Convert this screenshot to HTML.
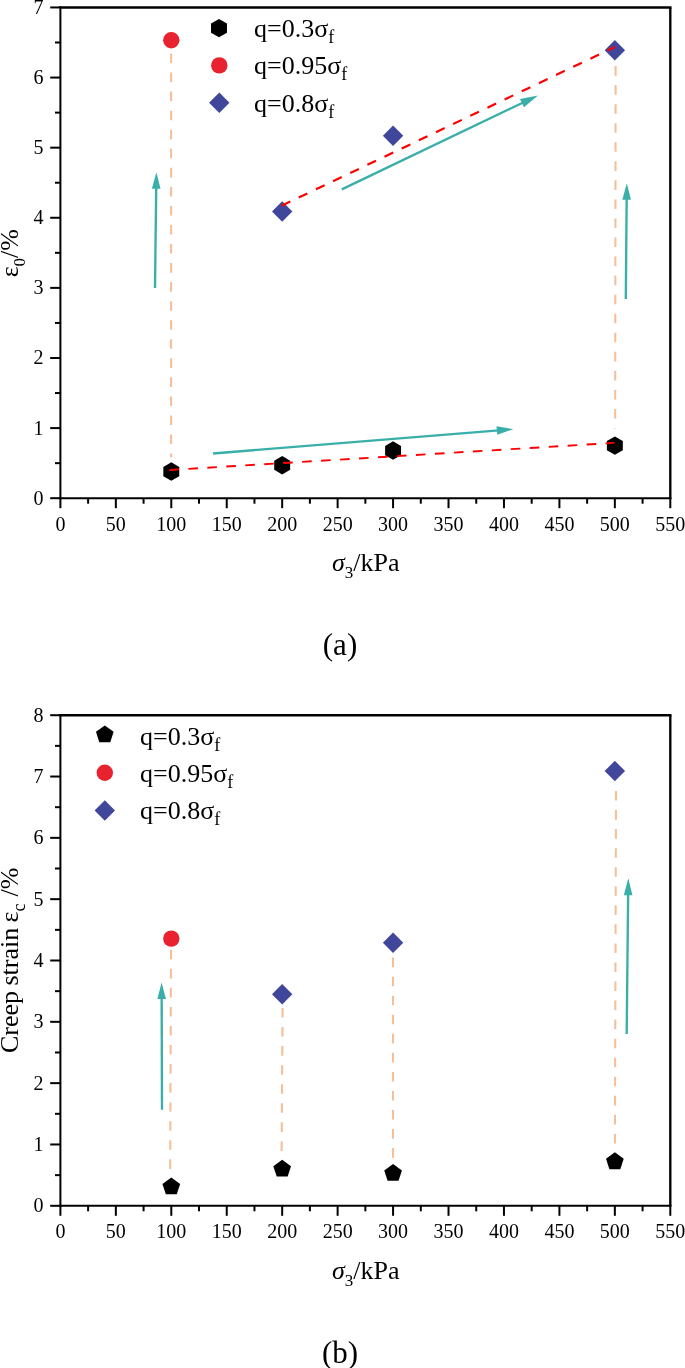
<!DOCTYPE html>
<html><head><meta charset="utf-8"><title>Figure</title>
<style>
html,body{margin:0;padding:0;background:#fff;}
body{width:685px;height:1368px;overflow:hidden;}
svg{display:block;}
text{font-family:"Liberation Serif", "Times New Roman", serif;fill:#000;}
</style></head><body>
<svg width="685" height="1368" viewBox="0 0 685 1368">
<rect width="685" height="1368" fill="#fff"/>

<g stroke="#000" fill="none" stroke-linecap="butt">
<line x1="60.40" y1="6.28" x2="60.40" y2="499.20" stroke-width="2.00"/>
<line x1="59.40" y1="498.20" x2="671.47" y2="498.20" stroke-width="2.00"/>
<line x1="59.40" y1="7.45" x2="671.47" y2="7.45" stroke-width="2.35"/>
<line x1="670.30" y1="7.45" x2="670.30" y2="498.20" stroke-width="2.35"/>
<line x1="50.20" y1="498.20" x2="60.40" y2="498.20" stroke-width="2.00"/>
<line x1="55.00" y1="463.15" x2="60.40" y2="463.15" stroke-width="2.00"/>
<line x1="50.20" y1="428.09" x2="60.40" y2="428.09" stroke-width="2.00"/>
<line x1="55.00" y1="393.04" x2="60.40" y2="393.04" stroke-width="2.00"/>
<line x1="50.20" y1="357.99" x2="60.40" y2="357.99" stroke-width="2.00"/>
<line x1="55.00" y1="322.93" x2="60.40" y2="322.93" stroke-width="2.00"/>
<line x1="50.20" y1="287.88" x2="60.40" y2="287.88" stroke-width="2.00"/>
<line x1="55.00" y1="252.82" x2="60.40" y2="252.82" stroke-width="2.00"/>
<line x1="50.20" y1="217.77" x2="60.40" y2="217.77" stroke-width="2.00"/>
<line x1="55.00" y1="182.72" x2="60.40" y2="182.72" stroke-width="2.00"/>
<line x1="50.20" y1="147.66" x2="60.40" y2="147.66" stroke-width="2.00"/>
<line x1="55.00" y1="112.61" x2="60.40" y2="112.61" stroke-width="2.00"/>
<line x1="50.20" y1="77.56" x2="60.40" y2="77.56" stroke-width="2.00"/>
<line x1="55.00" y1="42.50" x2="60.40" y2="42.50" stroke-width="2.00"/>
<line x1="50.20" y1="7.45" x2="60.40" y2="7.45" stroke-width="2.00"/>
<line x1="60.40" y1="498.20" x2="60.40" y2="508.20" stroke-width="2.00"/>
<line x1="88.12" y1="498.20" x2="88.12" y2="503.70" stroke-width="2.00"/>
<line x1="115.85" y1="498.20" x2="115.85" y2="508.20" stroke-width="2.00"/>
<line x1="143.57" y1="498.20" x2="143.57" y2="503.70" stroke-width="2.00"/>
<line x1="171.29" y1="498.20" x2="171.29" y2="508.20" stroke-width="2.00"/>
<line x1="199.01" y1="498.20" x2="199.01" y2="503.70" stroke-width="2.00"/>
<line x1="226.74" y1="498.20" x2="226.74" y2="508.20" stroke-width="2.00"/>
<line x1="254.46" y1="498.20" x2="254.46" y2="503.70" stroke-width="2.00"/>
<line x1="282.18" y1="498.20" x2="282.18" y2="508.20" stroke-width="2.00"/>
<line x1="309.90" y1="498.20" x2="309.90" y2="503.70" stroke-width="2.00"/>
<line x1="337.63" y1="498.20" x2="337.63" y2="508.20" stroke-width="2.00"/>
<line x1="365.35" y1="498.20" x2="365.35" y2="503.70" stroke-width="2.00"/>
<line x1="393.07" y1="498.20" x2="393.07" y2="508.20" stroke-width="2.00"/>
<line x1="420.80" y1="498.20" x2="420.80" y2="503.70" stroke-width="2.00"/>
<line x1="448.52" y1="498.20" x2="448.52" y2="508.20" stroke-width="2.00"/>
<line x1="476.24" y1="498.20" x2="476.24" y2="503.70" stroke-width="2.00"/>
<line x1="503.96" y1="498.20" x2="503.96" y2="508.20" stroke-width="2.00"/>
<line x1="531.69" y1="498.20" x2="531.69" y2="503.70" stroke-width="2.00"/>
<line x1="559.41" y1="498.20" x2="559.41" y2="508.20" stroke-width="2.00"/>
<line x1="587.13" y1="498.20" x2="587.13" y2="503.70" stroke-width="2.00"/>
<line x1="614.85" y1="498.20" x2="614.85" y2="508.20" stroke-width="2.00"/>
<line x1="642.58" y1="498.20" x2="642.58" y2="503.70" stroke-width="2.00"/>
<line x1="670.30" y1="498.20" x2="670.30" y2="508.20" stroke-width="2.00"/>
</g>
<g font-size="20" text-anchor="end">
<text x="43.5" y="504.70">0</text>
<text x="43.5" y="434.59">1</text>
<text x="43.5" y="364.49">2</text>
<text x="43.5" y="294.38">3</text>
<text x="43.5" y="224.27">4</text>
<text x="43.5" y="154.16">5</text>
<text x="43.5" y="84.06">6</text>
<text x="43.5" y="13.95">7</text>
</g>
<g font-size="20" text-anchor="middle">
<text x="60.40" y="530.80">0</text>
<text x="115.85" y="530.80">50</text>
<text x="171.29" y="530.80">100</text>
<text x="226.74" y="530.80">150</text>
<text x="282.18" y="530.80">200</text>
<text x="337.63" y="530.80">250</text>
<text x="393.07" y="530.80">300</text>
<text x="448.52" y="530.80">350</text>
<text x="503.96" y="530.80">400</text>
<text x="559.41" y="530.80">450</text>
<text x="614.85" y="530.80">500</text>
<text x="670.30" y="530.80">550</text>
</g>
<text x="332" y="570.70" font-size="26"><tspan font-style="italic">σ</tspan><tspan font-size="17" dy="7">3</tspan><tspan dy="-7">/kPa</tspan></text>
<text x="340" y="654.50" font-size="31" text-anchor="middle">(a)</text>
<text transform="translate(18.0,277.3) rotate(-90)" font-size="26">ε<tspan font-size="17" dy="7">0</tspan><tspan dy="-7">/%</tspan></text>
<line x1="171.09" y1="53.50" x2="171.09" y2="457.20" stroke="#f4c09a" stroke-width="2.10" stroke-dasharray="9.6 9.45"/>
<line x1="615.65" y1="47.00" x2="615.15" y2="428.50" stroke="#f4c09a" stroke-width="2.10" stroke-dasharray="9.6 9.45"/>
<polygon points="171.29,462.36 179.26,466.96 179.26,476.16 171.29,480.76 163.32,476.16 163.32,466.96" fill="#000"/>
<polygon points="282.18,456.05 290.15,460.65 290.15,469.85 282.18,474.45 274.21,469.85 274.21,460.65" fill="#000"/>
<polygon points="393.07,441.33 401.04,445.93 401.04,455.13 393.07,459.73 385.11,455.13 385.11,445.93" fill="#000"/>
<polygon points="614.85,436.42 622.82,441.02 622.82,450.22 614.85,454.82 606.89,450.22 606.89,441.02" fill="#000"/>
<circle cx="171.29" cy="40.30" r="8.20" fill="#e8222e"/>
<polygon points="282.18,201.26 292.38,211.46 282.18,221.66 271.98,211.46" fill="#40479b"/>
<polygon points="393.07,125.55 403.27,135.75 393.07,145.95 382.87,135.75" fill="#40479b"/>
<polygon points="614.85,40.02 625.05,50.22 614.85,60.42 604.65,50.22" fill="#40479b"/>
<line x1="169.40" y1="470.00" x2="614.40" y2="442.85" stroke="#ff0000" stroke-width="1.90" stroke-dasharray="9.6 9.4"/>
<line x1="281.60" y1="205.70" x2="614.85" y2="47.00" stroke="#ff0000" stroke-width="2.20" stroke-dasharray="9.6 9.4"/>
<line x1="155.00" y1="288.00" x2="156.22" y2="186.80" stroke="#3aaea9" stroke-width="2.35"/><polygon points="156.40,172.30 160.50,188.85 151.90,188.75" fill="#3aaea9"/>
<line x1="213.00" y1="453.50" x2="498.85" y2="430.37" stroke="#3aaea9" stroke-width="2.35"/><polygon points="513.30,429.20 497.20,434.82 496.51,426.24" fill="#3aaea9"/>
<line x1="341.80" y1="189.40" x2="523.75" y2="102.23" stroke="#3aaea9" stroke-width="2.35"/><polygon points="538.00,95.40 523.93,107.24 519.96,98.94" fill="#3aaea9"/>
<line x1="625.80" y1="299.00" x2="626.67" y2="197.70" stroke="#3aaea9" stroke-width="2.35"/><polygon points="626.80,183.20 630.96,199.74 622.36,199.66" fill="#3aaea9"/>
<polygon points="219.00,18.90 226.97,23.50 226.97,32.70 219.00,37.30 211.03,32.70 211.03,23.50" fill="#000"/>
<circle cx="219.30" cy="65.40" r="8.20" fill="#e8222e"/>
<polygon points="219.30,92.50 229.50,102.70 219.30,112.90 209.10,102.70" fill="#40479b"/>
<text x="254" y="37.00" font-size="26">q=0.3σ<tspan font-size="18" dy="6">f</tspan></text>
<text x="254" y="74.30" font-size="26">q=0.95σ<tspan font-size="18" dy="6">f</tspan></text>
<text x="254" y="111.60" font-size="26">q=0.8σ<tspan font-size="18" dy="6">f</tspan></text>
<g stroke="#000" fill="none" stroke-linecap="butt">
<line x1="60.40" y1="714.03" x2="60.40" y2="1206.80" stroke-width="2.00"/>
<line x1="59.40" y1="1205.80" x2="671.47" y2="1205.80" stroke-width="2.00"/>
<line x1="59.40" y1="715.20" x2="671.47" y2="715.20" stroke-width="2.35"/>
<line x1="670.30" y1="715.20" x2="670.30" y2="1205.80" stroke-width="2.35"/>
<line x1="50.20" y1="1205.80" x2="60.40" y2="1205.80" stroke-width="2.00"/>
<line x1="55.00" y1="1175.14" x2="60.40" y2="1175.14" stroke-width="2.00"/>
<line x1="50.20" y1="1144.47" x2="60.40" y2="1144.47" stroke-width="2.00"/>
<line x1="55.00" y1="1113.81" x2="60.40" y2="1113.81" stroke-width="2.00"/>
<line x1="50.20" y1="1083.15" x2="60.40" y2="1083.15" stroke-width="2.00"/>
<line x1="55.00" y1="1052.49" x2="60.40" y2="1052.49" stroke-width="2.00"/>
<line x1="50.20" y1="1021.83" x2="60.40" y2="1021.83" stroke-width="2.00"/>
<line x1="55.00" y1="991.16" x2="60.40" y2="991.16" stroke-width="2.00"/>
<line x1="50.20" y1="960.50" x2="60.40" y2="960.50" stroke-width="2.00"/>
<line x1="55.00" y1="929.84" x2="60.40" y2="929.84" stroke-width="2.00"/>
<line x1="50.20" y1="899.17" x2="60.40" y2="899.17" stroke-width="2.00"/>
<line x1="55.00" y1="868.51" x2="60.40" y2="868.51" stroke-width="2.00"/>
<line x1="50.20" y1="837.85" x2="60.40" y2="837.85" stroke-width="2.00"/>
<line x1="55.00" y1="807.19" x2="60.40" y2="807.19" stroke-width="2.00"/>
<line x1="50.20" y1="776.53" x2="60.40" y2="776.53" stroke-width="2.00"/>
<line x1="55.00" y1="745.86" x2="60.40" y2="745.86" stroke-width="2.00"/>
<line x1="50.20" y1="715.20" x2="60.40" y2="715.20" stroke-width="2.00"/>
<line x1="60.40" y1="1205.80" x2="60.40" y2="1215.80" stroke-width="2.00"/>
<line x1="88.12" y1="1205.80" x2="88.12" y2="1211.30" stroke-width="2.00"/>
<line x1="115.85" y1="1205.80" x2="115.85" y2="1215.80" stroke-width="2.00"/>
<line x1="143.57" y1="1205.80" x2="143.57" y2="1211.30" stroke-width="2.00"/>
<line x1="171.29" y1="1205.80" x2="171.29" y2="1215.80" stroke-width="2.00"/>
<line x1="199.01" y1="1205.80" x2="199.01" y2="1211.30" stroke-width="2.00"/>
<line x1="226.74" y1="1205.80" x2="226.74" y2="1215.80" stroke-width="2.00"/>
<line x1="254.46" y1="1205.80" x2="254.46" y2="1211.30" stroke-width="2.00"/>
<line x1="282.18" y1="1205.80" x2="282.18" y2="1215.80" stroke-width="2.00"/>
<line x1="309.90" y1="1205.80" x2="309.90" y2="1211.30" stroke-width="2.00"/>
<line x1="337.63" y1="1205.80" x2="337.63" y2="1215.80" stroke-width="2.00"/>
<line x1="365.35" y1="1205.80" x2="365.35" y2="1211.30" stroke-width="2.00"/>
<line x1="393.07" y1="1205.80" x2="393.07" y2="1215.80" stroke-width="2.00"/>
<line x1="420.80" y1="1205.80" x2="420.80" y2="1211.30" stroke-width="2.00"/>
<line x1="448.52" y1="1205.80" x2="448.52" y2="1215.80" stroke-width="2.00"/>
<line x1="476.24" y1="1205.80" x2="476.24" y2="1211.30" stroke-width="2.00"/>
<line x1="503.96" y1="1205.80" x2="503.96" y2="1215.80" stroke-width="2.00"/>
<line x1="531.69" y1="1205.80" x2="531.69" y2="1211.30" stroke-width="2.00"/>
<line x1="559.41" y1="1205.80" x2="559.41" y2="1215.80" stroke-width="2.00"/>
<line x1="587.13" y1="1205.80" x2="587.13" y2="1211.30" stroke-width="2.00"/>
<line x1="614.85" y1="1205.80" x2="614.85" y2="1215.80" stroke-width="2.00"/>
<line x1="642.58" y1="1205.80" x2="642.58" y2="1211.30" stroke-width="2.00"/>
<line x1="670.30" y1="1205.80" x2="670.30" y2="1215.80" stroke-width="2.00"/>
</g>
<g font-size="20" text-anchor="end">
<text x="43.5" y="1212.30">0</text>
<text x="43.5" y="1150.97">1</text>
<text x="43.5" y="1089.65">2</text>
<text x="43.5" y="1028.33">3</text>
<text x="43.5" y="967.00">4</text>
<text x="43.5" y="905.67">5</text>
<text x="43.5" y="844.35">6</text>
<text x="43.5" y="783.03">7</text>
<text x="43.5" y="721.70">8</text>
</g>
<g font-size="20" text-anchor="middle">
<text x="60.40" y="1238.40">0</text>
<text x="115.85" y="1238.40">50</text>
<text x="171.29" y="1238.40">100</text>
<text x="226.74" y="1238.40">150</text>
<text x="282.18" y="1238.40">200</text>
<text x="337.63" y="1238.40">250</text>
<text x="393.07" y="1238.40">300</text>
<text x="448.52" y="1238.40">350</text>
<text x="503.96" y="1238.40">400</text>
<text x="559.41" y="1238.40">450</text>
<text x="614.85" y="1238.40">500</text>
<text x="670.30" y="1238.40">550</text>
</g>
<text x="332" y="1278.50" font-size="26"><tspan font-style="italic">σ</tspan><tspan font-size="17" dy="7">3</tspan><tspan dy="-7">/kPa</tspan></text>
<text x="340" y="1362.70" font-size="31" text-anchor="middle">(b)</text>
<text transform="translate(17.7,1053.1) rotate(-90)" font-size="26" word-spacing="-1.1">Creep strain ε<tspan font-size="18" dy="7">c</tspan><tspan dy="-7" dx="7">/%</tspan></text>
<line x1="171.00" y1="949.75" x2="170.20" y2="1169.00" stroke="#f4c09a" stroke-width="2.10" stroke-dasharray="9.6 9.45"/>
<line x1="282.60" y1="1008.00" x2="281.60" y2="1151.20" stroke="#f4c09a" stroke-width="2.10" stroke-dasharray="9.6 9.45"/>
<line x1="393.00" y1="957.60" x2="393.00" y2="1158.00" stroke="#f4c09a" stroke-width="2.10" stroke-dasharray="9.6 9.45"/>
<line x1="616.00" y1="791.00" x2="614.90" y2="1144.00" stroke="#f4c09a" stroke-width="2.10" stroke-dasharray="9.6 9.45"/>
<polygon points="171.29,1177.49 180.14,1183.92 176.76,1194.31 165.82,1194.31 162.45,1183.92" fill="#000"/>
<polygon points="282.18,1159.70 291.03,1166.13 287.65,1176.53 276.72,1176.53 273.34,1166.13" fill="#000"/>
<polygon points="393.07,1164.00 401.92,1170.42 398.54,1180.82 387.61,1180.82 384.23,1170.42" fill="#000"/>
<polygon points="614.85,1152.35 623.70,1158.77 620.32,1169.17 609.39,1169.17 606.01,1158.77" fill="#000"/>
<circle cx="171.29" cy="938.61" r="8.20" fill="#e8222e"/>
<polygon points="282.18,984.03 292.38,994.23 282.18,1004.43 271.98,994.23" fill="#40479b"/>
<polygon points="393.07,932.52 403.27,942.72 393.07,952.92 382.87,942.72" fill="#40479b"/>
<polygon points="614.85,760.81 625.05,771.01 614.85,781.21 604.65,771.01" fill="#40479b"/>
<line x1="162.00" y1="1109.80" x2="161.65" y2="997.10" stroke="#3aaea9" stroke-width="2.35"/><polygon points="161.60,982.60 165.95,999.09 157.35,999.11" fill="#3aaea9"/>
<line x1="626.70" y1="1034.00" x2="628.15" y2="893.30" stroke="#3aaea9" stroke-width="2.35"/><polygon points="628.30,878.30 632.43,895.34 623.83,895.25" fill="#3aaea9"/>
<polygon points="104.80,725.40 113.64,731.83 110.27,742.22 99.33,742.22 95.96,731.83" fill="#000"/>
<circle cx="104.80" cy="772.70" r="8.20" fill="#e8222e"/>
<polygon points="104.80,800.30 115.00,810.50 104.80,820.70 94.60,810.50" fill="#40479b"/>
<text x="140" y="744.60" font-size="26">q=0.3σ<tspan font-size="18" dy="6">f</tspan></text>
<text x="140" y="781.95" font-size="26">q=0.95σ<tspan font-size="18" dy="6">f</tspan></text>
<text x="140" y="819.30" font-size="26">q=0.8σ<tspan font-size="18" dy="6">f</tspan></text>
</svg></body></html>
